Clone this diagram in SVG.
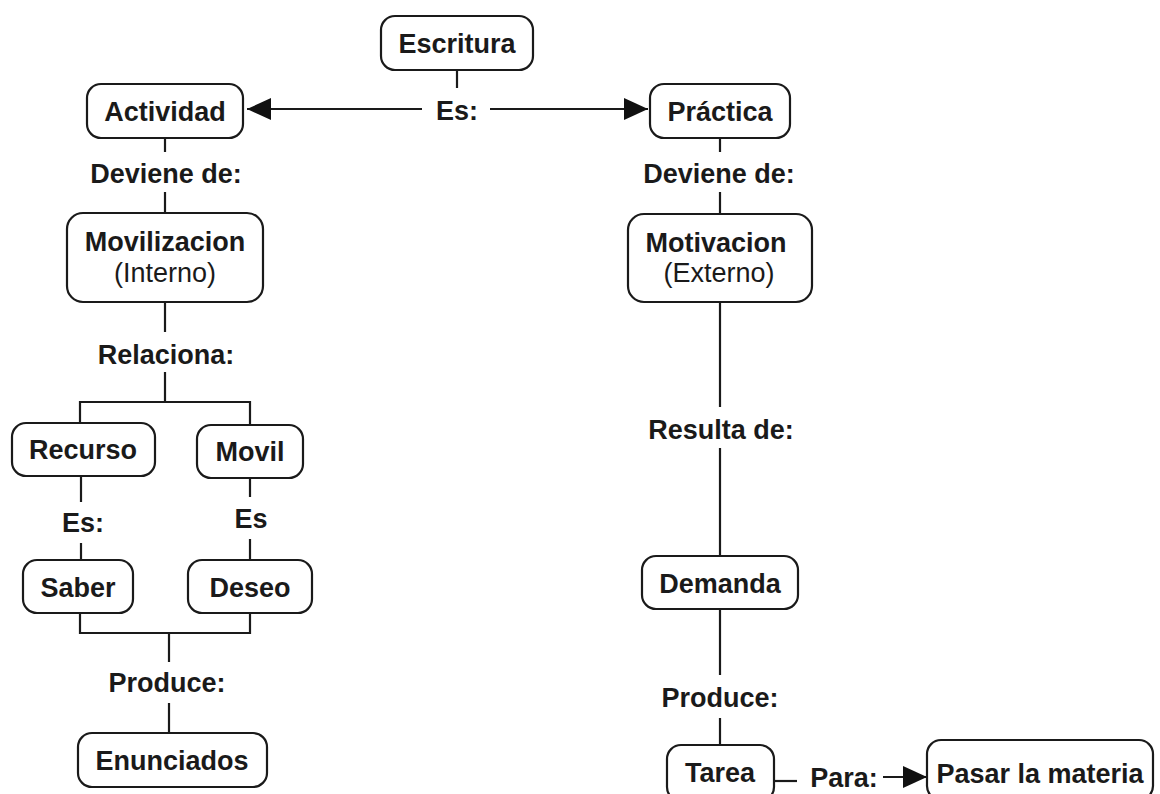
<svg xmlns="http://www.w3.org/2000/svg" width="1160" height="794" viewBox="0 0 1160 794">
<defs>
<style>
.n{fill:#fff;stroke:#1a1a1a;stroke-width:2.2}
.t{font-family:"Liberation Sans",Arial,sans-serif;font-size:27px;font-weight:bold;fill:#1a1a1a;text-anchor:middle}
.r{font-family:"Liberation Sans",Arial,sans-serif;font-size:27px;font-weight:normal;fill:#1a1a1a;text-anchor:middle}
.c{fill:none;stroke:#1a1a1a;stroke-width:2.2}
</style>
<marker id="ah" viewBox="0 0 24 22" refX="24" refY="11" markerWidth="24" markerHeight="22" markerUnits="userSpaceOnUse" orient="auto">
<path d="M0,0 L24,11 L0,22 z" fill="#111"/>
</marker>
</defs>
<rect width="1160" height="794" fill="#fff"/>
<g id="connectors">
<line class="c" x1="457" y1="70" x2="457" y2="88"/>
<line class="c" x1="422" y1="109" x2="247" y2="109" marker-end="url(#ah)"/>
<line class="c" x1="490" y1="109" x2="648" y2="109" marker-end="url(#ah)"/>
<text class="t" x="457" y="120">Es:</text>
<line class="c" x1="165" y1="138" x2="165" y2="152"/>
<text class="t" x="166" y="183">Deviene de:</text>
<line class="c" x1="165" y1="192" x2="165" y2="213"/>
<line class="c" x1="720" y1="138" x2="720" y2="152"/>
<text class="t" x="719" y="183">Deviene de:</text>
<line class="c" x1="720" y1="192" x2="720" y2="214"/>
<line class="c" x1="165" y1="302" x2="165" y2="332"/>
<text class="t" x="166" y="364">Relaciona:</text>
<path class="c" d="M165,372 V402 M80,423 V402 H250 V425"/>
<line class="c" x1="81" y1="476" x2="81" y2="502"/>
<text class="t" x="83" y="532">Es:</text>
<line class="c" x1="81" y1="543" x2="81" y2="560"/>
<line class="c" x1="250" y1="478" x2="250" y2="497"/>
<text class="t" x="251" y="528">Es</text>
<line class="c" x1="250" y1="539" x2="250" y2="560"/>
<path class="c" d="M80,613 V633 H250 V613 M169,633 V662"/>
<text class="t" x="167" y="692">Produce:</text>
<line class="c" x1="169" y1="703" x2="169" y2="733"/>
<line class="c" x1="720" y1="302" x2="720" y2="407"/>
<text class="t" x="721" y="439">Resulta de:</text>
<line class="c" x1="720" y1="448" x2="720" y2="556"/>
<line class="c" x1="720" y1="609" x2="720" y2="675"/>
<text class="t" x="720" y="707">Produce:</text>
<line class="c" x1="720" y1="718" x2="720" y2="745"/>
<line class="c" x1="774" y1="781" x2="797" y2="781"/>
<text class="t" x="844" y="787">Para:</text>
<line class="c" x1="883" y1="777" x2="927" y2="777" marker-end="url(#ah)"/>
</g>
<g id="escritura"><rect class="n" x="381" y="16" width="152" height="54" rx="14"/><text class="t" x="457" y="53">Escritura</text></g>
<g id="actividad"><rect class="n" x="87" y="84" width="156" height="54" rx="14"/><text class="t" x="165" y="121">Actividad</text></g>
<g id="practica"><rect class="n" x="650" y="84" width="140" height="54" rx="14"/><text class="t" x="720" y="121">Práctica</text></g>
<g id="movilizacion"><rect class="n" x="67" y="213" width="196" height="89" rx="16"/><text class="t" x="165" y="251">Movilizacion</text><text class="r" x="165" y="282">(Interno)</text></g>
<g id="motivacion"><rect class="n" x="628" y="214" width="184" height="88" rx="16"/><text class="t" x="716" y="252">Motivacion</text><text class="r" x="719" y="282">(Externo)</text></g>
<g id="recurso"><rect class="n" x="12" y="423" width="143" height="53" rx="14"/><text class="t" x="83" y="459">Recurso</text></g>
<g id="movil"><rect class="n" x="197" y="425" width="106" height="53" rx="14"/><text class="t" x="250" y="461">Movil</text></g>
<g id="saber"><rect class="n" x="23" y="560" width="110" height="53" rx="14"/><text class="t" x="78" y="597">Saber</text></g>
<g id="deseo"><rect class="n" x="188" y="560" width="124" height="53" rx="14"/><text class="t" x="250" y="597">Deseo</text></g>
<g id="enunciados"><rect class="n" x="78" y="733" width="189" height="54" rx="14"/><text class="t" x="172" y="770">Enunciados</text></g>
<g id="demanda"><rect class="n" x="642" y="556" width="156" height="53" rx="14"/><text class="t" x="720" y="593">Demanda</text></g>
<g id="tarea"><rect class="n" x="667" y="745" width="107" height="56" rx="14"/><text class="t" x="720" y="782">Tarea</text></g>
<g id="pasar"><rect class="n" x="927" y="740" width="226" height="60" rx="14"/><text class="t" x="1040" y="783">Pasar la materia</text></g>
</svg>
